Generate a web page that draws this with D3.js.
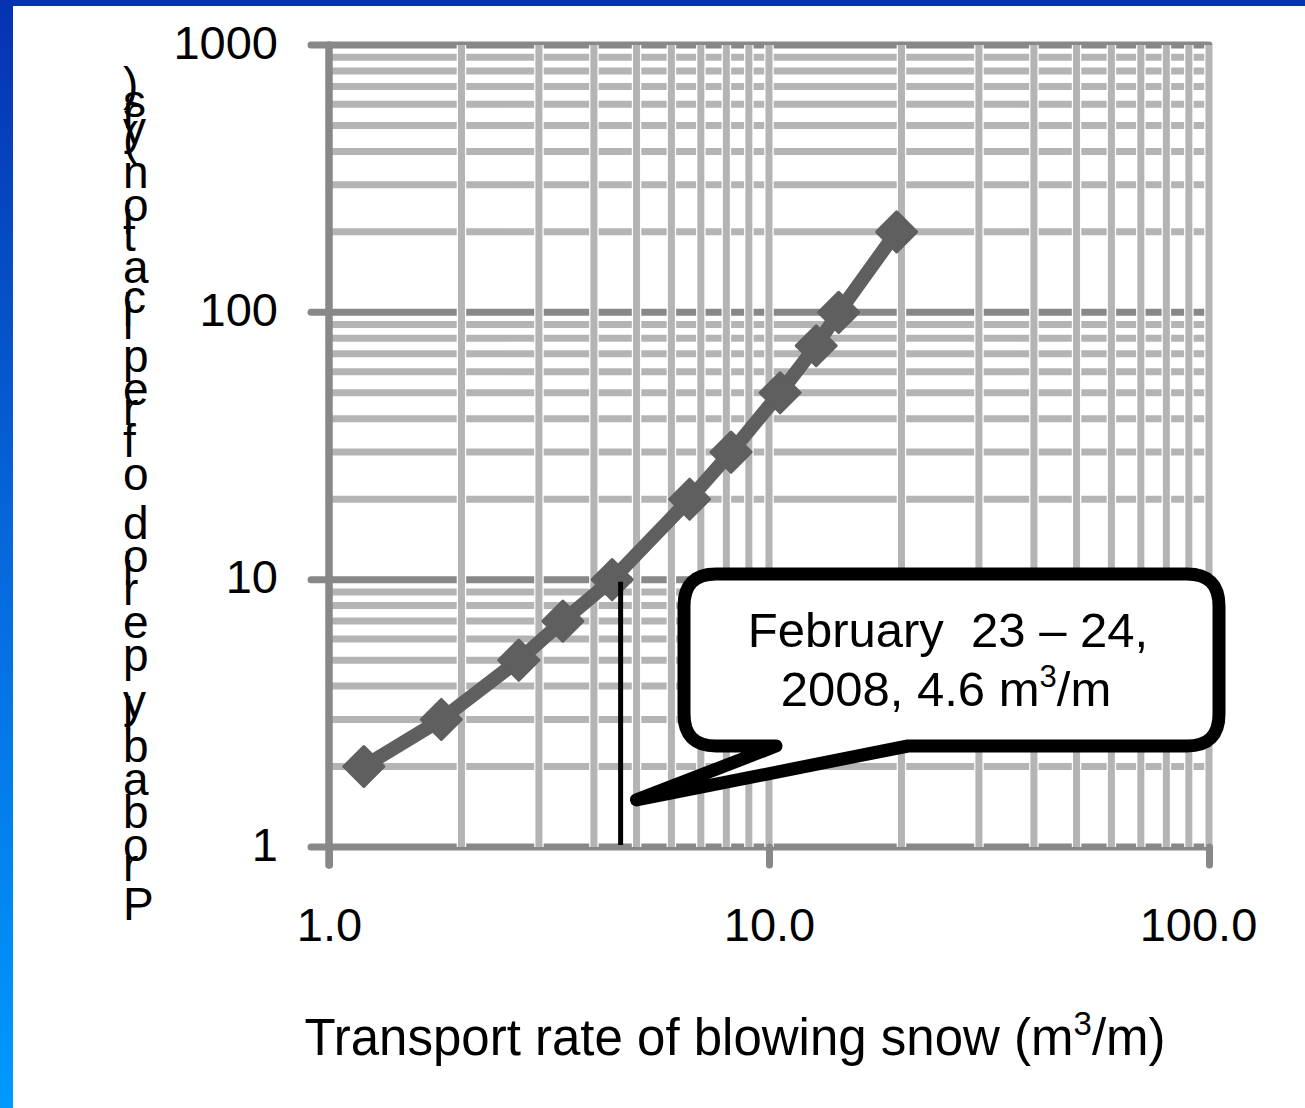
<!DOCTYPE html>
<html>
<head>
<meta charset="utf-8">
<script src="https://cdn.jsdelivr.net/npm/d3@7"></script>
<style>
  html, body { margin: 0; padding: 0; background: #fff; }
  svg { display: block; }
  text { font-family: "Liberation Sans", Arial, sans-serif; fill: #000; }
</style>
</head>
<body>
<svg id="chart" width="1305" height="1108"></svg>
<script>
// ---- data ----
const transportRate = [1.2, 1.8, 2.7, 3.4, 4.4, 6.6, 8.2, 10.6, 12.8, 14.4, 19.5]; // m3/m
const returnPeriod  = [2, 3, 5, 7, 10, 20, 30, 50, 75, 100, 200];                 // years
const xTickValues = [1, 10, 100];
const yTickValues = [1, 10, 100, 1000];
const xMinorGrid = [2,3,4,5,6,7,8,9,10,20,30,40,50,60,70,80,90,100];
const yMinorGrid = [2,3,4,5,6,7,8,9,20,30,40,50,60,70,80,90,200,300,400,500,600,700,800,900];
const eventRate = 4.6;
const calloutLines = ["February  23 \u2013 24,", "2008, 4.6 m"];
const xTitle = "Transport rate of blowing snow";
const yTitleMain = "Probably period of replication";
const yTitleUnit = "(yrs)";

const svg = d3.select("#chart");
const W = 1305, H = 1108;

// ---- frame ----
const defs = svg.append("defs");
const grad = defs.append("linearGradient").attr("id", "leftBar")
  .attr("x1", 0).attr("y1", 0).attr("x2", 0).attr("y2", 1);
grad.append("stop").attr("offset", "0%").attr("stop-color", "#0632b2");
grad.append("stop").attr("offset", "50%").attr("stop-color", "#0668dc");
grad.append("stop").attr("offset", "100%").attr("stop-color", "#009aff");
svg.append("rect").attr("x", 0).attr("y", 0).attr("width", W).attr("height", H).attr("fill", "#fff");
svg.append("rect").attr("x", 0).attr("y", 0).attr("width", W).attr("height", 6).attr("fill", "#0633b4");
svg.append("rect").attr("x", 0).attr("y", 0).attr("width", 13).attr("height", H).attr("fill", "url(#leftBar)");

// ---- scales ----
const x = d3.scaleLog().domain([1, 100]).range([329, 1209]);
const y = d3.scaleLog().domain([1, 1000]).range([847, 45]);

const minorColor = "#b4b4b4", majorColor = "#888888";
const g = svg.append("g");

function hLine(v, color, x0) {
  g.append("line").attr("x1", x0).attr("x2", x.range()[1]).attr("y1", y(v)).attr("y2", y(v))
    .attr("stroke", "#fff").attr("stroke-width", 9.5);
  g.append("line").attr("x1", x0).attr("x2", x.range()[1]).attr("y1", y(v)).attr("y2", y(v))
    .attr("stroke", color).attr("stroke-width", 7).attr("stroke-linecap", "round");
}
function vLine(v, color) {
  g.append("line").attr("x1", x(v)).attr("x2", x(v)).attr("y1", y.range()[1]).attr("y2", y.range()[0])
    .attr("stroke", "#fff").attr("stroke-width", 9.5);
  g.append("line").attr("x1", x(v)).attr("x2", x(v)).attr("y1", y.range()[1]).attr("y2", y.range()[0])
    .attr("stroke", color).attr("stroke-width", 7);
}
yMinorGrid.forEach(v => hLine(v, minorColor, x.range()[0]));
yTickValues.forEach(v => hLine(v, majorColor, x.range()[0] - 18));
xMinorGrid.forEach(v => vLine(v, minorColor));

// y axis line
g.append("line").attr("x1", x(1)).attr("x2", x(1)).attr("y1", y(1000)).attr("y2", y(1) + 18)
  .attr("stroke", majorColor).attr("stroke-width", 7.5).attr("stroke-linecap", "round");

// ---- axes (ticks + labels) ----
const xAxis = d3.axisBottom(x).tickValues(xTickValues).tickFormat(d3.format(".1f"))
  .tickSize(18).tickPadding(43);
const xg = svg.append("g").attr("transform", `translate(0,${y(1)})`).call(xAxis);
xg.select(".domain").remove();
xg.selectAll(".tick line").attr("stroke", majorColor).attr("stroke-width", 7).attr("stroke-linecap", "round");
xg.selectAll(".tick text").attr("font-size", 47).attr("fill", "#000")
  .attr("dx", d => d === 100 ? -11 : 0)
  .style("font-family", "'Liberation Sans', Arial, sans-serif");

const yAxis = d3.axisLeft(y).tickValues(yTickValues).tickFormat(d3.format("d"))
  .tickSize(18).tickPadding(33);
const yg = svg.append("g").attr("transform", `translate(${x(1)},0)`).call(yAxis);
yg.select(".domain").remove();
yg.selectAll(".tick line").remove();
yg.selectAll(".tick text").attr("font-size", 47).attr("fill", "#000").attr("dy", "0.28em")
  .style("font-family", "'Liberation Sans', Arial, sans-serif");

// ---- series ----
const pts = transportRate.map((d, i) => [d, returnPeriod[i]]);
svg.append("path").datum(pts)
  .attr("d", d3.line().x(d => x(d[0])).y(d => y(d[1])))
  .attr("fill", "none").attr("stroke", "#5f5f5f").attr("stroke-width", 14)
  .attr("stroke-linejoin", "round");
svg.selectAll(".mk").data(pts).enter().append("path")
  .attr("class", "mk")
  .attr("d", d3.symbol().type(d3.symbolSquare).size(800))
  .attr("transform", d => `translate(${x(d[0])},${y(d[1])}) rotate(45)`)
  .attr("fill", "#5f5f5f").attr("stroke", "#5f5f5f").attr("stroke-width", 3).attr("stroke-linejoin", "round");

// ---- event marker line ----
svg.append("line").attr("x1", x(eventRate)).attr("x2", x(eventRate))
  .attr("y1", y(10) + 2).attr("y2", y(1) - 2)
  .attr("stroke", "#000").attr("stroke-width", 5);

// ---- callout ----
const bx0 = 684, bx1 = 1219, by0 = 574, by1 = 746, r = 32;
const tipX = x(5.0), tipY = y(1.5);
const cp = d3.path();
cp.moveTo(bx0 + r, by0);
cp.lineTo(bx1 - r, by0);
cp.quadraticCurveTo(bx1, by0, bx1, by0 + r);
cp.lineTo(bx1, by1 - r);
cp.quadraticCurveTo(bx1, by1, bx1 - r, by1);
cp.lineTo(908, by1);
cp.lineTo(tipX, tipY);
cp.lineTo(776, by1);
cp.lineTo(bx0 + r, by1);
cp.quadraticCurveTo(bx0, by1, bx0, by1 - r);
cp.lineTo(bx0, by0 + r);
cp.quadraticCurveTo(bx0, by0, bx0 + r, by0);
cp.closePath();
svg.append("path").attr("d", cp.toString())
  .attr("fill", "#fff").attr("stroke", "#000").attr("stroke-width", 13)
  .attr("stroke-linejoin", "round");

const cx = 948;
svg.append("text").attr("x", cx).attr("y", 647).attr("text-anchor", "middle")
  .attr("font-size", 49).style("white-space", "pre").attr("xml:space", "preserve")
  .text(calloutLines[0]);
const t2 = svg.append("text").attr("x", cx - 2).attr("y", 706).attr("text-anchor", "middle")
  .attr("font-size", 49);
t2.append("tspan").text(calloutLines[1]);
t2.append("tspan").attr("font-size", 31).attr("dy", -19).text("3");
t2.append("tspan").attr("dy", 19).text("/m");

// ---- x title ----
const xt = svg.append("text").attr("x", 735).attr("y", 1055).attr("text-anchor", "middle")
  .attr("font-size", 51);
xt.append("tspan").text(xTitle + " (m");
xt.append("tspan").attr("font-size", 33).attr("dy", -20).text("3");
xt.append("tspan").attr("dy", 20).text("/m)");

// ---- y title: upright characters stacked bottom-to-top ----
const fs = 46;
const meas = svg.append("text").attr("font-size", fs).attr("x", -1000).attr("y", -1000);
function adv(ch) {
  if (ch === " ") {
    meas.text("a a"); const a = meas.node().getComputedTextLength();
    meas.text("aa"); return a - meas.node().getComputedTextLength();
  }
  meas.text(ch); return meas.node().getComputedTextLength();
}
const yt = svg.append("g");
let pos = 920;
const segs = [[yTitleMain, 59], [yTitleUnit, 33]];
segs.forEach(([str, pxPerEm]) => {
  str.split("").forEach(ch => {
    if (ch !== " ") {
      yt.append("text").attr("x", 123).attr("y", pos).attr("font-size", fs).text(ch);
    }
    pos -= adv(ch) / fs * pxPerEm;
  });
});
meas.remove();
</script>
</body>
</html>
